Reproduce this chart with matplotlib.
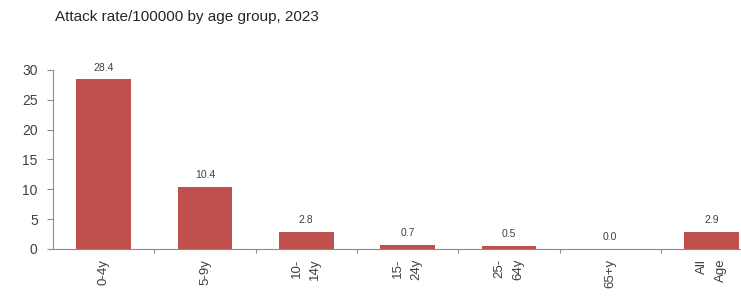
import matplotlib.pyplot as plt
import numpy as np

# Data
age_groups = ['0-4y', '5-9y', '10-\n14y', '15-\n24y', '25-\n64y', '65+y', 'All\nAge']
attack_rate = [28.4, 10.4, 2.8, 0.7, 0.5, 0.0, 2.9]
value_labels = ['28.4', '10.4', '2.8', '0.7', '0.5', '0.0', '2.9']
y_ticks = [0, 5, 10, 15, 20, 25, 30]

BAR_COLOR = '#C0504D'
TEXT_COLOR = '#404040'
AXIS_COLOR = '#8C8C8C'

plt.rcParams['font.family'] = ['Liberation Sans', 'DejaVu Sans']

fig = plt.figure(figsize=(7.41, 3.0), dpi=100)
# axes run past the right edge, like the cropped original
ax = fig.add_axes([0.0715, 0.17, 0.957, 0.597])

x = np.arange(len(age_groups))
bars = ax.bar(x, attack_rate, width=0.54, color=BAR_COLOR)

for xi, val, lab in zip(x, attack_rate, value_labels):
    ax.annotate(lab, (xi, val), xytext=(0, 5), textcoords='offset points',
                ha='center', va='bottom', fontsize=7.5, color=TEXT_COLOR)

ax.set_xlim(-0.5, len(age_groups) - 0.5)
ax.set_ylim(0, 30)
ax.set_yticks(y_ticks)
ax.tick_params(axis='y', labelsize=10, colors=AXIS_COLOR, labelcolor=TEXT_COLOR,
               length=4, width=0.8, pad=7)

ax.set_xticks(x)
ax.set_xticklabels(age_groups, rotation=90, fontsize=9.5, color=TEXT_COLOR,
                   va='top', ha='center', multialignment='right', linespacing=1.7)
ax.tick_params(axis='x', which='major', length=0, pad=7)
ax.set_xticks(np.arange(len(age_groups)) + 0.5, minor=True)
ax.tick_params(axis='x', which='minor', length=3, width=0.8, colors=AXIS_COLOR)

for side in ['top', 'right']:
    ax.spines[side].set_visible(False)
for side in ['left', 'bottom']:
    ax.spines[side].set_color(AXIS_COLOR)
    ax.spines[side].set_linewidth(0.8)

fig.text(0.074, 0.945, 'Attack rate/100000 by age group, 2023', fontsize=11,
         color='#262626', ha='left', va='center')

plt.savefig('out.png', dpi=100)
plt.close(fig)
